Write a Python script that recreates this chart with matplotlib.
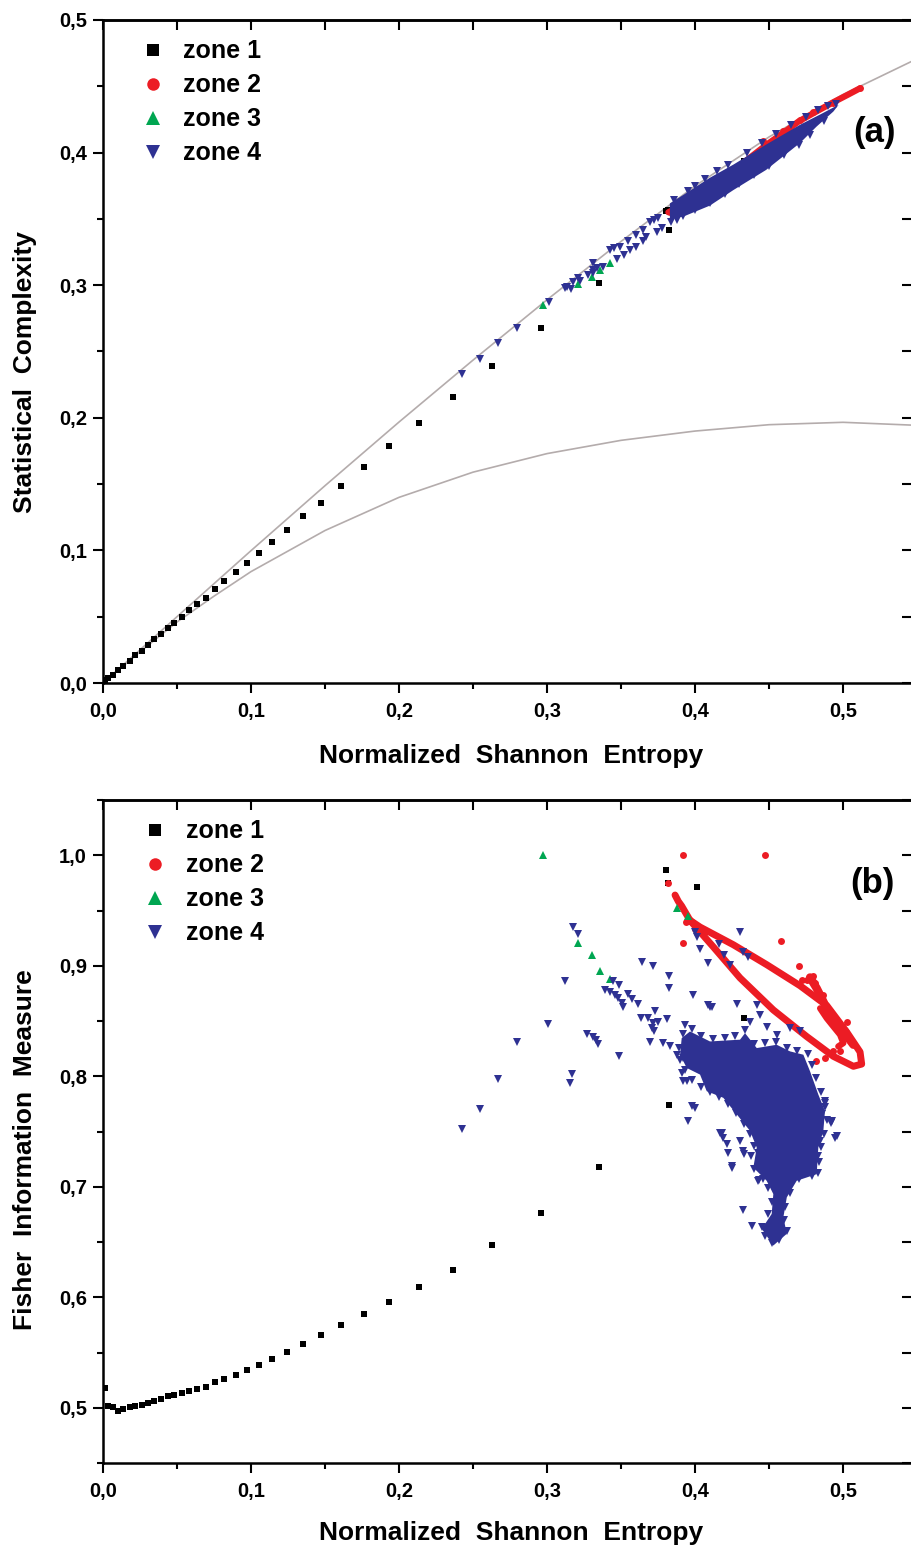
import numpy as np
import matplotlib
matplotlib.use('Agg')
import matplotlib.pyplot as plt
from matplotlib.ticker import MultipleLocator, FuncFormatter
from matplotlib.lines import Line2D

plt.rcParams['font.family'] = ['Liberation Sans', 'DejaVu Sans']
plt.rcParams['font.weight'] = 'bold'

# ---------------- data ----------------
zone_labels = ['zone 1', 'zone 2', 'zone 3', 'zone 4']

# theoretical bounds (panel a)
cmax_H = [0, 0.025, 0.05, 0.1, 0.15, 0.2, 0.25, 0.3, 0.35, 0.4, 0.45, 0.5, 0.546]
cmax_C = [0, 0.025, 0.05, 0.0998, 0.1488, 0.1968, 0.2435, 0.289, 0.333, 0.3748, 0.4118, 0.4438, 0.4686]
cmin_H = [0, 0.025, 0.05, 0.075, 0.1, 0.15, 0.2, 0.25, 0.3, 0.35, 0.4, 0.45, 0.5, 0.546]
cmin_C = [0, 0.0235, 0.046, 0.0655, 0.084, 0.115, 0.140, 0.159, 0.173, 0.183, 0.190, 0.1948, 0.1966, 0.1945]

# zone 1 (shared entropy)
z1_H = [0.0014, 0.0036, 0.0070, 0.0104, 0.0137, 0.0182, 0.0216, 0.0261, 0.0306, 0.0346,
        0.0392, 0.0437, 0.0482, 0.0532, 0.0583, 0.0637, 0.0696, 0.0757, 0.0818, 0.0897,
        0.0971, 0.1054, 0.1144, 0.1245, 0.1354, 0.1473, 0.1606, 0.1766, 0.1935, 0.2137,
        0.2365, 0.263, 0.296, 0.335, 0.3804, 0.382, 0.3824, 0.4016, 0.4333]
z1_C = [0.0023, 0.004, 0.006, 0.0098, 0.013, 0.0166, 0.0211, 0.0243, 0.0287, 0.033,
        0.037, 0.0412, 0.045, 0.05, 0.055, 0.0598, 0.0643, 0.0707, 0.0769, 0.0835,
        0.0907, 0.0978, 0.1061, 0.1154, 0.1259, 0.136, 0.1486, 0.163, 0.179, 0.196,
        0.216, 0.239, 0.268, 0.302, 0.356, 0.357, 0.342, 0.370, 0.394]
z1_F = [0.5177, 0.5018, 0.5003, 0.4973, 0.4988, 0.5003, 0.5012, 0.5027, 0.5042, 0.5057,
        0.5081, 0.5102, 0.5117, 0.5132, 0.5153, 0.5168, 0.5192, 0.5231, 0.5261, 0.5297,
        0.5342, 0.5387, 0.5444, 0.5505, 0.5577, 0.5655, 0.5748, 0.5844, 0.5955, 0.6093,
        0.625, 0.647, 0.676, 0.718, 0.987, 0.975, 0.774, 0.971, 0.853]

# zone 3 (shared entropy)
z3_H = [0.297, 0.321, 0.3306, 0.3358, 0.3426, 0.3876, 0.395]
z3_C = [0.285, 0.3007, 0.3064, 0.3115, 0.3165, 0.3567, 0.3605]
z3_F = [1.0, 0.921, 0.910, 0.895, 0.888, 0.952, 0.945]

# zone 2, panel a: dense ridge along the upper edge + points
z2a_ridge_H = [0.382, 0.392, 0.412, 0.43, 0.4484, 0.4592, 0.47, 0.482, 0.4935, 0.503, 0.5115]
z2a_ridge_C = [0.355, 0.3605, 0.3756, 0.39, 0.406, 0.4145, 0.4235, 0.431, 0.438, 0.4435, 0.4485]
z2a_H = [0.446, 0.4592, 0.4709, 0.4799, 0.4935, 0.5115, 0.383, 0.392]
z2a_C = [0.409, 0.4165, 0.4246, 0.4306, 0.4371, 0.4485, 0.3554, 0.3605]

# zone 2, panel b: loop, streaks and scattered points
z2b_loop_H = [0.3865, 0.3887, 0.391, 0.3966, 0.4124, 0.4304, 0.4529, 0.4754, 0.4935, 0.507, 0.5126,
              0.5115, 0.5025, 0.489, 0.4709, 0.4484, 0.4259, 0.4034, 0.3966]
z2b_loop_F = [0.964, 0.9583, 0.954, 0.9411, 0.917, 0.889, 0.86, 0.836, 0.818, 0.809, 0.811,
              0.822, 0.84, 0.864, 0.882, 0.901, 0.919, 0.935, 0.9411]
z2b_s1_H = [0.4777, 0.4822, 0.4856, 0.4889, 0.4924, 0.4957, 0.498, 0.5014, 0.5036, 0.507]
z2b_s1_F = [0.8894, 0.8796, 0.8706, 0.8615, 0.854, 0.8495, 0.845, 0.8405, 0.8345, 0.8285]
z2b_s2_H = [0.4845, 0.489, 0.4935, 0.498, 0.5002, 0.4968]
z2b_s2_F = [0.8615, 0.8525, 0.845, 0.8376, 0.83, 0.827]
z2b_H = [0.392, 0.4473, 0.382, 0.392, 0.4579, 0.4705, 0.4725, 0.4755, 0.4799, 0.4811, 0.4818, 0.4878, 0.4, 0.394,
         0.4866, 0.4912, 0.4957, 0.5025, 0.498, 0.4935]
z2b_F = [1.0, 1.0, 0.975, 0.921, 0.9228, 0.8997, 0.8871, 0.887, 0.8904, 0.8847, 0.8135, 0.8165, 0.9335, 0.9396,
         0.8736, 0.8586, 0.8495, 0.8495, 0.8225, 0.8225]

# zone 4, panel a: dense band outline + individual points
z4a_band_H = [0.383, 0.392, 0.41, 0.426, 0.448, 0.471, 0.485, 0.4935, 0.497,
              0.4935, 0.482, 0.471, 0.448, 0.426, 0.41, 0.392, 0.383]
z4a_band_C = [0.3617, 0.368, 0.381, 0.391, 0.406, 0.421, 0.429, 0.434, 0.436,
              0.431, 0.4195, 0.4073, 0.3869, 0.3718, 0.36, 0.3517, 0.35]
z4a_H = [0.2428, 0.2547, 0.2671, 0.2795, 0.3014, 0.3122, 0.316, 0.3173, 0.3212, 0.328, 0.3313, 0.3336,
         0.331, 0.3426, 0.345, 0.349, 0.355, 0.36, 0.365, 0.3696, 0.372, 0.375,
         0.3133, 0.322, 0.331, 0.338, 0.347, 0.352, 0.356, 0.36, 0.365, 0.367, 0.374, 0.378, 0.384, 0.388,
         0.386, 0.395, 0.40, 0.407, 0.415, 0.422, 0.435, 0.445, 0.455, 0.465, 0.475, 0.483, 0.49, 0.4955,
         0.392, 0.40, 0.41, 0.42, 0.43, 0.44, 0.45, 0.46, 0.47, 0.478, 0.487]
z4a_C = [0.2328, 0.2443, 0.2562, 0.268, 0.2876, 0.2977, 0.2969, 0.3027, 0.3057, 0.3077, 0.3115, 0.3127,
         0.3165, 0.3265, 0.328, 0.329, 0.333, 0.338, 0.342, 0.348, 0.349, 0.351,
         0.2989, 0.303, 0.309, 0.314, 0.3195, 0.323, 0.3265, 0.329, 0.3335, 0.3366, 0.3404, 0.343, 0.3475, 0.349,
         0.364, 0.371, 0.375, 0.38, 0.386, 0.391, 0.4, 0.407, 0.414, 0.421, 0.427, 0.432, 0.435, 0.437,
         0.352, 0.357, 0.362, 0.369, 0.376, 0.383, 0.39, 0.398, 0.406, 0.413, 0.424]

# zone 4, panel b: dense cloud outline + individual points
z4b_blob_H = [0.391, 0.3966, 0.4101, 0.4304, 0.4338, 0.4417, 0.4552, 0.4642, 0.4732, 0.4777, 0.4833,
              0.4878, 0.4867, 0.4833, 0.4822, 0.4687, 0.462, 0.4597, 0.462, 0.4529, 0.4451, 0.4518,
              0.4529, 0.4484, 0.4394, 0.4417, 0.4372, 0.4282, 0.4191, 0.4079, 0.4034, 0.3944, 0.3899]
z4b_blob_F = [0.8345, 0.8405, 0.8315, 0.8331, 0.839, 0.8255, 0.8285, 0.8225, 0.8195, 0.8045, 0.7835,
              0.7685, 0.7505, 0.7354, 0.7114, 0.7054, 0.6904, 0.6724, 0.6574, 0.6468, 0.6619, 0.6754,
              0.6934, 0.7054, 0.7174, 0.7354, 0.7505, 0.7655, 0.7805, 0.7865, 0.8015, 0.8075, 0.8195]
z4b_H = [0.2424, 0.2547, 0.2671, 0.2795, 0.3009, 0.3122, 0.3174, 0.3207, 0.3167, 0.3155, 0.3273, 0.3309,
         0.3329, 0.3342, 0.3486, 0.3448, 0.3486, 0.3392, 0.3426, 0.3459, 0.3482, 0.3505, 0.3512, 0.3549,
         0.3572, 0.3617, 0.3644, 0.3718, 0.3827, 0.3827, 0.3635, 0.3685, 0.3718, 0.3752, 0.3707, 0.3725,
         0.373, 0.3809, 0.3696, 0.3932, 0.3786, 0.3831, 0.3876, 0.3922, 0.391, 0.3944, 0.3922, 0.3955,
         0.3977, 0.4,
         0.4, 0.401, 0.4034, 0.409, 0.4164, 0.4196, 0.4236, 0.4304, 0.4322, 0.436, 0.3989, 0.409, 0.4113,
         0.4281, 0.4417, 0.4439, 0.4372, 0.4484, 0.4642, 0.4709, 0.4552, 0.4101,
         0.4169, 0.4191, 0.4214, 0.422, 0.4247, 0.4333, 0.4428, 0.4435, 0.4327, 0.4383, 0.418, 0.4304,
         0.4327, 0.4248, 0.4428, 0.4878, 0.4919, 0.4946, 0.4845, 0.4833, 0.4788, 0.4856, 0.4878, 0.4924,
         0.4957,
         0.392, 0.398, 0.404, 0.412, 0.42, 0.427, 0.434, 0.44, 0.447, 0.455, 0.462, 0.469, 0.476,
         0.479, 0.482, 0.485, 0.488, 0.489, 0.487, 0.485, 0.484, 0.483,
         0.47, 0.464, 0.461, 0.46, 0.462, 0.457, 0.452, 0.447, 0.445, 0.449, 0.452, 0.449, 0.446,
         0.44, 0.438, 0.44, 0.437, 0.433, 0.428, 0.422, 0.416, 0.41, 0.404, 0.398, 0.393, 0.39, 0.389]
z4b_F = [0.752, 0.7706, 0.7979, 0.8309, 0.8474, 0.8865, 0.9351, 0.9291, 0.8021, 0.794, 0.8385, 0.8355,
         0.8324, 0.8288, 0.818, 0.8865, 0.8826, 0.8781, 0.8766, 0.8736, 0.8706, 0.8661, 0.8631, 0.8742,
         0.87, 0.8651, 0.9036, 0.9, 0.8907, 0.8796, 0.8525, 0.8525, 0.848, 0.8495, 0.8435, 0.8405,
         0.8591, 0.8519, 0.8309, 0.8466, 0.83, 0.827, 0.8195, 0.8165, 0.803, 0.7955, 0.7955, 0.7595,
         0.773, 0.7714,
         0.9306, 0.9261, 0.9156, 0.9021, 0.9201, 0.9096, 0.9006, 0.9306, 0.9126, 0.9081, 0.8736, 0.8646, 0.863,
         0.8651, 0.8646, 0.8556, 0.8495, 0.845, 0.8435, 0.8405, 0.8376, 0.8631,
         0.749, 0.7444, 0.7384, 0.7309, 0.7174, 0.7295, 0.7309, 0.706, 0.679, 0.6649, 0.749, 0.7414,
         0.7324, 0.7189, 0.7054, 0.776, 0.7579, 0.7444, 0.7414, 0.7279, 0.7099, 0.7655, 0.7775, 0.7595,
         0.746,
         0.838, 0.843, 0.836, 0.834, 0.835, 0.836, 0.842, 0.829, 0.83, 0.831, 0.826, 0.823, 0.82,
         0.81, 0.798, 0.786, 0.772, 0.76, 0.748, 0.736, 0.722, 0.712,
         0.707, 0.694, 0.682, 0.67, 0.66, 0.652, 0.649, 0.655, 0.664, 0.675, 0.686, 0.699, 0.707,
         0.716, 0.728, 0.737, 0.748, 0.757, 0.767, 0.775, 0.781, 0.786, 0.79, 0.797, 0.806, 0.815, 0.826]

# ---------------- style ----------------
BLACK = '#000000'
RED = '#ec1c24'
GREEN = '#00a651'
BLUE = '#2e3192'
GRAY = '#b4acac'
XMAX = 0.5466

fig = plt.figure(figsize=(9.11, 15.51), dpi=100)
W, H = 911.0, 1551.0
ax1 = fig.add_axes([103 / W, 1 - 683 / H, 809 / W, 663 / H])
ax2 = fig.add_axes([103 / W, 1 - 1463 / H, 809 / W, 663 / H])


def fmt(v, p):
    v = round(v, 2)
    if abs(v) < 1e-9:
        v = 0.0
    return f"{v:.1f}".replace('.', ',')


def style(ax, ylo, yhi):
    ax.set_xlim(0, XMAX)
    ax.set_ylim(ylo, yhi)
    for a in (ax.xaxis, ax.yaxis):
        a.set_major_locator(MultipleLocator(0.1))
        a.set_minor_locator(MultipleLocator(0.05))
        a.set_major_formatter(FuncFormatter(fmt))
    ax.tick_params(which='major', direction='out', length=7.5, width=1.5, labelsize=14.5)
    ax.tick_params(which='minor', direction='out', length=4.5, width=1.5)
    ax.tick_params(axis='x', pad=6)
    ax.tick_params(axis='y', pad=4)
    for s in ax.spines.values():
        s.set_linewidth(1.8)
    sx = ax.secondary_xaxis('top')
    sx.xaxis.set_major_locator(MultipleLocator(0.1))
    sx.xaxis.set_minor_locator(MultipleLocator(0.05))
    sx.tick_params(which='both', direction='in', length=7, width=1.5, labeltop=False)
    sx.spines['top'].set_linewidth(1.8)
    sy = ax.secondary_yaxis('right')
    sy.yaxis.set_major_locator(MultipleLocator(0.1))
    sy.yaxis.set_minor_locator(MultipleLocator(0.05))
    sy.tick_params(which='both', direction='in', length=7, width=1.5, labelright=False)
    sy.spines['right'].set_linewidth(1.8)


style(ax1, 0, 0.5)
style(ax2, 0.45, 1.05)

# ---------------- panel (a) ----------------
ax1.plot(cmax_H, cmax_C, color=GRAY, lw=1.2, zorder=1)
ax1.plot(cmin_H, cmin_C, color=GRAY, lw=1.2, zorder=1)
ax1.plot(z1_H, z1_C, 's', color=BLACK, ms=4.2, mew=0, zorder=2)
ax1.plot(z2a_ridge_H, z2a_ridge_C, '-', color=RED, lw=4.5, solid_capstyle='round', zorder=3)
ax1.plot(z2a_H, z2a_C, 'o', color=RED, ms=5, mew=0, zorder=3)
ax1.plot(z3_H, z3_C, '^', color=GREEN, ms=5.5, mew=0, zorder=4)
ax1.fill(z4a_band_H, z4a_band_C, color=BLUE, lw=0, zorder=5)
ax1.plot(z4a_H, z4a_C, 'v', color=BLUE, ms=5.5, mew=0, zorder=5)

ax1.text(0.5216, 0.4155, '(a)', fontsize=25, fontweight='bold', ha='center', va='center')
ax1.set_xlabel('Normalized  Shannon  Entropy', fontsize=19, fontweight='bold')
ax1.set_ylabel('Statistical  Complexity', fontsize=19, fontweight='bold')
ax1.xaxis.set_label_coords(0.505, -0.110)
ax1.xaxis.label.set_va('center')
ax1.yaxis.set_label_coords(-0.0964, 0.469)
ax1.yaxis.label.set_va('center')

# ---------------- panel (b) ----------------
ax2.plot(z1_H, z1_F, 's', color=BLACK, ms=4.2, mew=0, zorder=2)
ax2.plot(z2b_loop_H, z2b_loop_F, '-', color=RED, lw=5, solid_capstyle='round',
         solid_joinstyle='round', zorder=3)
ax2.plot(z2b_s1_H, z2b_s1_F, '-', color=RED, lw=6, solid_capstyle='round', zorder=3)
ax2.plot(z2b_s2_H, z2b_s2_F, '-', color=RED, lw=4.5, solid_capstyle='round', zorder=3)
ax2.plot(z2b_H, z2b_F, 'o', color=RED, ms=5, mew=0, zorder=3)
ax2.plot(z3_H, z3_F, '^', color=GREEN, ms=5.5, mew=0, zorder=4)
ax2.fill(z4b_blob_H, z4b_blob_F, color=BLUE, lw=0, zorder=5)
ax2.plot(z4b_H, z4b_F, 'v', color=BLUE, ms=5.5, mew=0, zorder=5)

ax2.text(0.5196, 0.9748, '(b)', fontsize=25, fontweight='bold', ha='center', va='center')
ax2.set_xlabel('Normalized  Shannon  Entropy', fontsize=19, fontweight='bold')
ax2.set_ylabel('Fisher  Information  Measure', fontsize=19, fontweight='bold')
ax2.xaxis.set_label_coords(0.505, -0.1056)
ax2.xaxis.label.set_va('center')
ax2.yaxis.set_label_coords(-0.0964, 0.472)
ax2.yaxis.label.set_va('center')

# ---------------- legends ----------------
handles = [Line2D([], [], ls='none', marker='s', color=BLACK, ms=8, mew=0),
           Line2D([], [], ls='none', marker='o', color=RED, ms=9, mew=0),
           Line2D([], [], ls='none', marker='^', color=GREEN, ms=10, mew=0),
           Line2D([], [], ls='none', marker='v', color=BLUE, ms=10, mew=0)]
for ax, x0, pad in ((ax1, 0.0464, 0.7), (ax2, 0.0488, 0.74)):
    ax.legend(handles, zone_labels, loc='upper left', bbox_to_anchor=(x0, 0.9706),
              borderpad=0, borderaxespad=0, handlelength=1.0, handletextpad=pad,
              labelspacing=0.4, frameon=False, prop={'size': 18, 'weight': 'bold'})

fig.savefig('out.png', dpi=100)
